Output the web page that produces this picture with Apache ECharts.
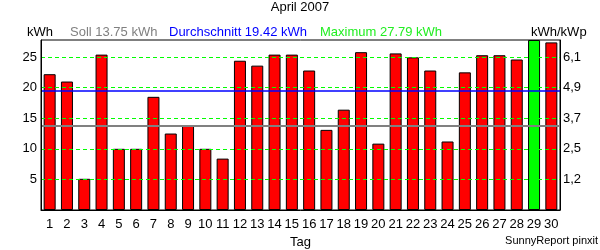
<!DOCTYPE html>
<html><head><meta charset="utf-8">
<script src="https://cdn.jsdelivr.net/npm/echarts@6/dist/echarts.min.js"></script>
<style>html,body{margin:0;padding:0;background:#fff}#c{width:600px;height:250px}</style>
</head><body><div id="c"></div>
<script>
var days = ['1','2','3','4','5','6','7','8','9','10','11','12','13','14','15','16','17','18','19','20','21','22','23','24','25','26','27','28','29','30'];
var kwh = [22.2,21.0,5.1,25.4,10.0,10.0,18.5,12.5,13.8,10.0,8.4,24.4,23.6,25.4,25.4,22.8,13.1,16.4,25.8,10.85,25.6,24.95,22.8,11.2,22.5,25.3,25.3,24.6,27.79,27.4];
var leftTicks = [5,10,15,20,25];
var rightTickLabels = ['1,2','2,5','3,7','4,9','6,1'];
var soll = 13.75;
var avg = 19.42;
var maxVal = 27.79;

var FONT = 'Liberation Sans, Arial, sans-serif';
var chart = echarts.init(document.getElementById('c'), null, {renderer:'canvas'});
var maxIdx = kwh.indexOf(Math.max.apply(null, kwh));
var barData = kwh.map(function(v,i){
  return i===maxIdx ? {value:v,itemStyle:{color:'#00ff00'}} : v;
});
var refLines = [
  {yAxis:soll, lineStyle:{color:'#808080', type:'solid', width:2, opacity:1}},
  {yAxis:avg, lineStyle:{color:'#0000ff', type:'solid', width:1.5, opacity:1}}
];

chart.setOption({
  animation:false,
  textStyle:{fontFamily:FONT},
  grid:{left:41, right:40, top:40, bottom:40, show:true, borderColor:'#000', borderWidth:1, backgroundColor:'#fff', containLabel:false, outerBoundsMode:'none'},
  graphic:[
    {type:'text', left:'center', top:1, style:{text:'April 2007', font:'13px '+FONT, fill:'#000'}},
    {type:'text', x:27, y:26, style:{text:'kWh', font:'13px '+FONT, fill:'#000'}},
    {type:'text', x:70, y:26, style:{text:'Soll '+soll.toFixed(2)+' kWh', font:'13px '+FONT, fill:'#808080'}},
    {type:'text', x:169, y:26, style:{text:'Durchschnitt '+avg.toFixed(2)+' kWh', font:'13px '+FONT, fill:'#0000ff'}},
    {type:'text', x:320, y:26, style:{text:'Maximum '+maxVal.toFixed(2)+' kWh', font:'13px '+FONT, fill:'#22ee22'}},
    {type:'text', x:531, y:26, style:{text:'kWh/kWp', font:'13px '+FONT, fill:'#000'}},
    {type:'text', right:2, top:235, style:{text:'SunnyReport pinxit', font:'11px '+FONT, fill:'#000'}}
  ],
  xAxis:{type:'category', data:days, boundaryGap:true,
    name:'Tag', nameLocation:'middle', nameGap:25, nameTextStyle:{fontSize:13, color:'#000', fontFamily:FONT},
    axisLine:{show:true, lineStyle:{color:'#000'}}, axisTick:{show:false}, splitLine:{show:false},
    axisLabel:{color:'#000', fontSize:13, margin:8, interval:0, fontFamily:FONT}},
  yAxis:[
    {type:'value', min:0, max:maxVal, interval:5, z:10,
      splitLine:{show:true, showMinLine:false, showMaxLine:false, lineStyle:{color:'#00ff00', type:[4,3], width:1}},
      axisLine:{show:true, lineStyle:{color:'#000'}}, axisTick:{show:false},
      axisLabel:{color:'#000', fontSize:13, margin:4, showMaxLabel:false, fontFamily:FONT,
        formatter:function(v){ return leftTicks.indexOf(v)>=0 ? String(v) : ''; }}},
    {type:'value', min:0, max:maxVal, interval:5, position:'right', splitLine:{show:false},
      axisLine:{show:true, lineStyle:{color:'#000'}}, axisTick:{show:false},
      axisLabel:{color:'#000', fontSize:13, margin:3, showMaxLabel:false, fontFamily:FONT,
        formatter:function(v){ var i = leftTicks.indexOf(v); return i>=0 ? rightTickLabels[i] : ''; }}}
  ],
  series:[{
    type:'bar', data:barData, barWidth:12,
    itemStyle:{color:'#ff0000', borderColor:'#000', borderWidth:1},
    markLine:{silent:true, symbol:'none', label:{show:false}, z:5, data:refLines}
  }]
});
</script></body></html>
